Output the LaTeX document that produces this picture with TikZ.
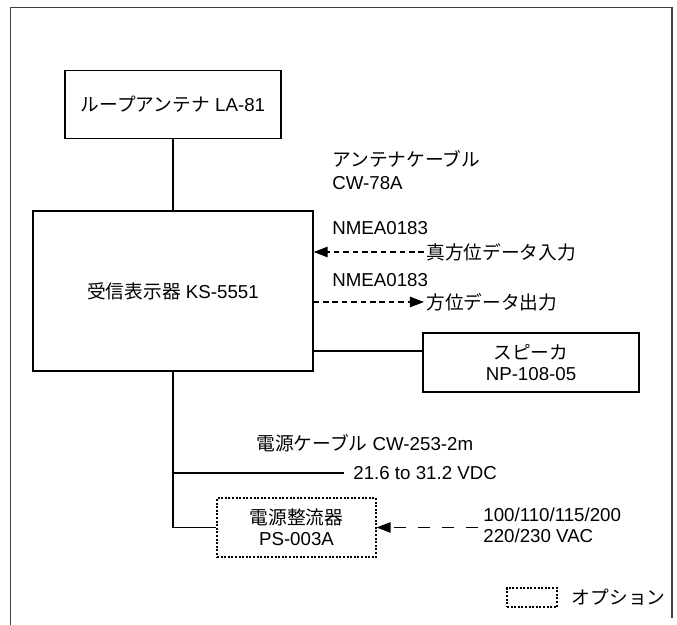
\documentclass[tikz,border=0pt]{standalone}
\usepackage{fontspec}
\setmainfont{Liberation Sans}
\newfontfamily\jp{Noto Sans CJK JP}
\usetikzlibrary{positioning,arrows.meta}
\tikzstyle{unit} = [
rectangle,
draw=black,
line width=0.7pt,
inner sep=0pt,
text centered,
align=center
]
\tikzstyle{optunit} = [
unit,
line width=0.6pt,
dash pattern=on 1pt off 0.8pt
]
\tikzstyle{note} = [
inner sep=1pt,
anchor=west,
align=left
]
\tikzstyle{cable} = [
line width=0.7pt
]
\tikzstyle{dataline} = [
line width=0.6pt,
dash pattern=on 2.8pt off 1.9pt,
-{Triangle[length=7pt,width=5.2pt]}
]
\tikzstyle{acline} = [
line width=0.6pt,
dash pattern=on 6pt off 6pt,
-{Triangle[length=7pt,width=5.2pt]}
]

\begin{document}
\begin{tikzpicture}[x=0.5pt,y=-0.5pt,font=\fontsize{9.35}{10.5}\selectfont]
					\useasboundingbox (0,0) rectangle (677,625);
					%Frame
					\draw[line width=0.6pt,black!75] (10.5,625) -- (10.5,7.5) -- (672,7.5) -- (672,618);
					%Nodes
					\node[unit,minimum width=140pt,minimum height=80pt] (main) at (173,291) {{\jp 受信表示器} KS-5551};
					\node[unit,minimum width=108pt,minimum height=34pt,above=35.5pt of main] (ant) {{\jp ループアンテナ} LA-81};
					\node[unit,minimum width=108pt,minimum height=29.5pt] (spk) at (531,362.5) {{\jp スピーカ}\\NP-108-05};
					\node[optunit,minimum width=79.5pt,minimum height=29.5pt] (rect) at (296.5,527.5) {{\jp 電源整流器}\\PS-003A};
					\node[note] (cab) at (330,170.5) {{\jp アンテナケーブル}\\[1pt]CW-78A};
					\node[note] (nmin) at (330,228) {NMEA0183};
					\node[note] (tin) at (424,252) {\jp 真方位データ入力};
					\node[note] (nmout) at (330,280) {NMEA0183};
					\node[note] (hout) at (424,302) {\jp 方位データ出力};
					\node[note] (pcab) at (254,443) {{\jp 電源ケーブル} CW-253-2m};
					\node[note,inner xsep=4.5pt] (vdc) at (344,473) {21.6 to 31.2 VDC};
					\node[note,inner xsep=2.5pt] (ac) at (478,525) {100/110/115/200\\220/230 VAC};
					\node[optunit,minimum width=25pt,minimum height=9.5pt] (optbox) at (532,597.5) {};
					\node[note,right=6pt of optbox] (opt) {\jp オプション};
					\coordinate (spkjoin) at ([yshift=5.75pt]spk.west);
					%Arrows
					\draw[cable] (ant.south) -- (main.north);
					\draw[dataline] (tin.west) -- (tin.west -| main.east);
					\draw[dataline] (main.east |- hout.west) -- (hout.west);
					\draw[cable] (main.east |- spkjoin) -- (spkjoin);
					\draw[cable] (main.south) |- (rect.west);
					\draw[cable] (main.south |- vdc.west) -- (vdc.west);
					\draw[acline] (ac.west |- rect.east) -- (rect.east);
				\end{tikzpicture}
\end{document}
